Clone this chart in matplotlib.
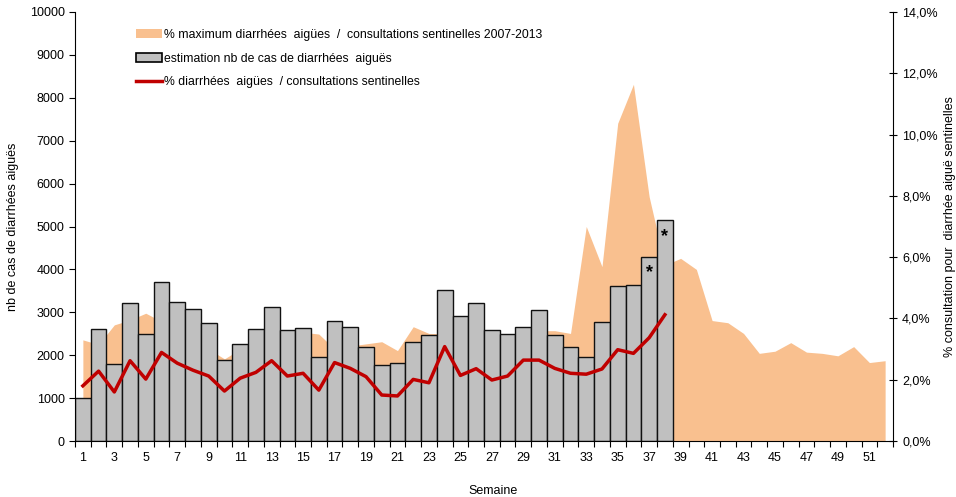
import matplotlib
matplotlib.use("Agg")
import matplotlib.pyplot as plt
from matplotlib.patches import Patch
from matplotlib.lines import Line2D
from matplotlib.ticker import FuncFormatter

plt.rcParams['font.family'] = ['Liberation Sans', 'DejaVu Sans']

weeks_all = list(range(1, 53))
weeks_obs = list(range(1, 39))

# estimated number of acute diarrhoea cases (left axis)
cases = [1000, 2620, 1790, 3220, 2490, 3700, 3240, 3080, 2750, 1880,
         2270, 2620, 3130, 2580, 2640, 1950, 2790, 2660, 2200, 1760,
         1810, 2310, 2470, 3520, 2910, 3220, 2580, 2490, 2650, 3060,
         2470, 2200, 1950, 2770, 3610, 3640, 4300, 5140]

# % acute diarrhoea / sentinel consultations (right axis)
pct = [1.80, 2.28, 1.60, 2.62, 2.02, 2.89, 2.54, 2.31, 2.12, 1.63,
       2.05, 2.24, 2.62, 2.12, 2.21, 1.66, 2.56, 2.37, 2.10, 1.50,
       1.47, 2.01, 1.90, 3.08, 2.14, 2.36, 1.99, 2.12, 2.64, 2.64,
       2.37, 2.21, 2.18, 2.35, 2.98, 2.86, 3.37, 4.12]

# maximum % 2007-2013 (right axis)
pct_max = [3.30, 3.15, 3.79, 3.95, 4.17, 3.90, 3.60, 3.40, 3.00, 2.68,
           3.00, 3.20, 3.40, 3.50, 3.55, 3.49, 3.00, 3.10, 3.17, 3.24,
           2.95, 3.73, 3.51, 3.50, 3.40, 3.40, 3.40, 3.45, 3.51, 3.60,
           3.60, 3.51, 7.00, 5.69, 10.37, 11.64, 7.97, 5.74, 5.96, 5.60,
           3.93, 3.86, 3.51, 2.86, 2.93, 3.21, 2.90, 2.86, 2.78, 3.08,
           2.56, 2.62]

star_weeks = [37, 38]

label_max = "% maximum diarrhées  aigües  /  consultations sentinelles 2007-2013"
label_cases = "estimation nb de cas de diarrhées  aiguës"
label_pct = "% diarrhées  aigües  / consultations sentinelles"

W, H = 956, 497
fig = plt.figure(figsize=(W / 100, H / 100), dpi=100)
rect = [75 / W, 1 - 441 / H, (893 - 75) / W, (441 - 12) / H]
ax = fig.add_axes(rect)
axa = ax.twinx()
axl = ax.twinx()

axa.set_zorder(1)
ax.set_zorder(2)
axl.set_zorder(3)
ax.patch.set_visible(False)
axl.patch.set_visible(False)

orange = '#F9C08F'
axa.fill_between(weeks_all, pct_max, 0, color=orange, linewidth=0)
ax.bar(weeks_obs, cases, width=1.0, color='#C0C0C0', edgecolor='#111111', linewidth=1.0)
for w in star_weeks:
    ax.text(w, cases[w - 1] - 380, '*', ha='center', va='center',
            fontsize=13, fontweight='bold')
axl.plot(weeks_obs, pct, color='#C00000', linewidth=2.5)

ax.set_xlim(0.5, 52.5)
ax.set_ylim(0, 10000)
axa.set_ylim(0, 14)
axl.set_ylim(0, 14)
axl.axis('off')

ax.set_yticks(range(0, 10001, 1000))
axa.set_yticks(range(0, 15, 2))
axa.yaxis.set_major_formatter(FuncFormatter(lambda v, p: f"{v:.1f}%".replace('.', ',')))

fs = 9
edges = [w - 0.5 for w in weeks_all] + [52.5]
ax.set_xticks(edges)
ax.set_xticklabels([])
ax.set_xticks(list(range(1, 53, 2)), minor=True)
ax.set_xticklabels([str(w) for w in range(1, 53, 2)], minor=True)
ax.tick_params(axis='x', which='minor', length=0, labelsize=fs, pad=8)
ax.tick_params(axis='x', which='major', length=4, direction='out')
ax.tick_params(axis='y', labelsize=fs, length=4, direction='out')
axa.tick_params(axis='y', labelsize=fs, length=6, direction='inout')

for a in (ax, axa):
    a.spines['top'].set_visible(False)
ax.spines['right'].set_visible(False)
axa.spines['left'].set_visible(False)
axa.spines['bottom'].set_visible(False)

ax.set_ylabel("nb de cas de diarrhées aiguës", fontsize=fs)
axa.set_ylabel("% consultation pour  diarrhée aiguë sentinelles", fontsize=fs)
ax.yaxis.set_label_coords(-0.068, 0.5)
axa.yaxis.set_label_coords(1.062, 0.5)
fig.text(493 / W, 1 - 491 / H, "Semaine", ha='center', va='center', fontsize=fs)

handles = [Patch(facecolor=orange, edgecolor='none'),
           Patch(facecolor='#C0C0C0', edgecolor='black', linewidth=1.2),
           Line2D([0], [0], color='#C00000', linewidth=2.5)]
axl.legend(handles, [label_max, label_cases, label_pct],
           loc='upper left', bbox_to_anchor=(136 / W, 1 - 29 / H),
           bbox_transform=fig.transFigure, frameon=False, fontsize=8.8,
           handlelength=2.1, handleheight=0.7, handletextpad=0.2,
           labelspacing=0.95, borderpad=0, borderaxespad=0)

fig.savefig("out.png", dpi=100)
